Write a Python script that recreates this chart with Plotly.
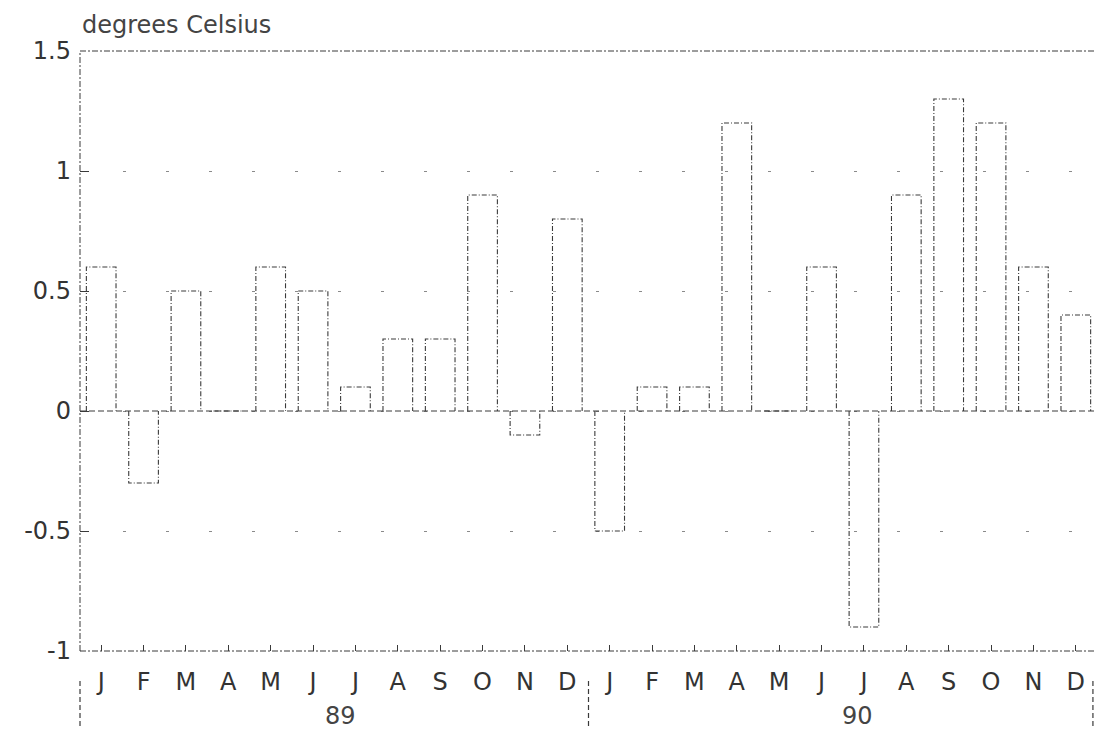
import plotly.graph_objects as go

months = ["J", "F", "M", "A", "M", "J", "J", "A", "S", "O", "N", "D"]
years = ["89", "90"]
anom_89 = [0.6, -0.3, 0.5, 0.0, 0.6, 0.5, 0.1, 0.3, 0.3, 0.9, -0.1, 0.8]
anom_90 = [-0.5, 0.1, 0.1, 1.2, 0.0, 0.6, -0.9, 0.9, 1.3, 1.2, 0.6, 0.4]
y_ticks = [-1, -0.5, 0, 0.5, 1, 1.5]
y_tick_labels = ["-1", "-0.5", "0", "0.5", "1", "1.5"]
y_title = "degrees Celsius"

values = anom_89 + anom_90
labels = months + months
n = len(values)
hw = 0.35

xs, ys = [], []
for i, v in enumerate(values):
    xs += [i - hw, i - hw, i + hw, i + hw, None]
    ys += [0, v, v, 0, None]

INK = "#3a3a3a"
FONT = "DejaVu Sans"

fig = go.Figure()
fig.add_trace(go.Scatter(
    x=xs, y=ys, mode="lines",
    line=dict(color=INK, width=1.1, dash="5px,2px,1px,2px"),
    hoverinfo="skip", showlegend=False,
))

shapes = [
    # plot frame
    dict(type="rect", xref="paper", yref="paper", x0=0, x1=1, y0=0, y1=1,
         line=dict(color=INK, width=1, dash="6px,2px,2px,2px"), layer="below"),
    # zero line
    dict(type="line", xref="paper", yref="y", x0=0, x1=1, y0=0, y1=0,
         line=dict(color=INK, width=1, dash="6px,3px")),
]
# year dividers below the axis (group boundaries as fraction of the x domain)
n_per_year = len(months)
for k in range(len(years) + 1):
    fx = min(k * n_per_year / n, 0.996)
    shapes.append(dict(type="line", xref="paper", yref="paper", x0=fx, x1=fx,
                       y0=-0.05, y1=-0.14,
                       line=dict(color=INK, width=1.2, dash="5px,3px")))

annotations = [
    dict(text=y_title, xref="paper", yref="paper", x=0, y=1, xanchor="left",
         yanchor="bottom", yshift=10, showarrow=False,
         font=dict(family=FONT, size=24, color="#444")),
]
for yr, xc in zip(years, [5.65, 17.85]):
    annotations.append(dict(text=yr, xref="x", yref="paper", x=xc, y=-0.108,
                            xanchor="center", yanchor="middle", showarrow=False,
                            font=dict(family=FONT, size=24, color="#444")))

fig.update_layout(
    width=1094, height=721,
    margin=dict(l=72, r=5, t=43, b=78),
    paper_bgcolor="white", plot_bgcolor="white",
    shapes=shapes, annotations=annotations,
    showlegend=False,
    xaxis=dict(
        range=[-0.5, n - 0.5], tickvals=list(range(n)), ticktext=labels,
        showgrid=False, zeroline=False, showline=False,
        ticks="inside", ticklen=6, tickcolor=INK, tickwidth=1,
        ticklabelstandoff=14,
        tickfont=dict(family=FONT, size=24, color="#333"),
    ),
    yaxis=dict(
        range=[-1, 1.5], tickvals=y_ticks, ticktext=y_tick_labels,
        showgrid=True, gridcolor="#8a8a8a", gridwidth=1, griddash="3px,40px",
        zeroline=False, showline=False,
        ticks="inside", ticklen=9, tickcolor=INK, tickwidth=1,
        ticklabelstandoff=8,
        tickfont=dict(family=FONT, size=24, color="#333"),
    ),
)

fig.write_html("out.html")
